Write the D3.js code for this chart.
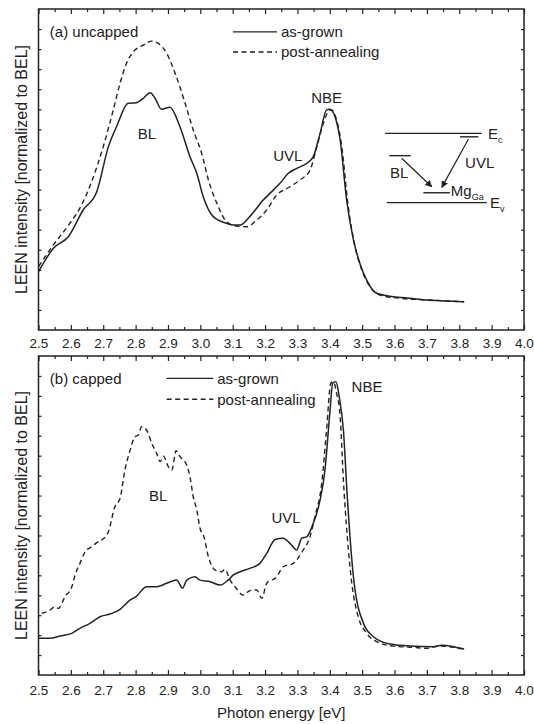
<!DOCTYPE html>
<html lang="en">
<head>
<meta charset="utf-8">
<title>LEEN spectra</title>
<script src="https://d3js.org/d3.v7.min.js"></script>
<style>
    body { margin: 0; background: #fff; }
    svg { font-family: "Liberation Sans", Arial, sans-serif; fill: #222; }
    .tick text { font-size: 13.5px; fill: #222; }
    .lbl { font-size: 15px; fill: #222; }
    .ylbl { font-size: 16px; fill: #222; }
</style>
</head>
<body>
<div id="chart"></div>
<script>
// [photon energy eV, intensity in axis units]
const topAsGrown = [[2.50,2.91],[2.546,4.07],[2.592,4.65],[2.638,5.98],[2.68,6.89],[2.716,9.14],[2.742,10.17],[2.777,11.3],[2.803,11.33],[2.824,11.55],[2.845,11.83],[2.86,11.55],[2.88,11.0],[2.906,11.1],[2.937,10.13],[2.968,8.64],[2.989,7.81],[3.009,6.64],[3.04,5.65],[3.081,5.32],[3.102,5.23],[3.123,5.23],[3.148,5.57],[3.174,6.07],[3.19,6.4],[3.215,6.81],[3.246,7.31],[3.272,7.81],[3.298,8.06],[3.329,8.31],[3.349,8.64],[3.37,9.8],[3.39,10.97],[3.40,11.0],[3.416,10.63],[3.432,9.47],[3.452,6.48],[3.473,4.49],[3.493,3.32],[3.514,2.49],[3.545,1.83],[3.596,1.66],[3.648,1.58],[3.699,1.50],[3.761,1.45],[3.815,1.41]];
const topAnnealed = [[2.50,3.16],[2.546,4.24],[2.597,5.32],[2.633,6.23],[2.664,7.39],[2.70,9.14],[2.731,10.97],[2.752,12.3],[2.772,13.3],[2.793,13.87],[2.824,14.2],[2.85,14.4],[2.87,14.29],[2.896,13.79],[2.922,12.8],[2.953,11.3],[2.978,9.97],[3.004,8.81],[3.025,7.48],[3.051,6.32],[3.081,5.4],[3.112,5.18],[3.143,5.15],[3.174,5.48],[3.205,5.98],[3.236,6.73],[3.277,7.14],[3.308,7.48],[3.339,7.97],[3.36,9.14],[3.38,10.3],[3.395,10.88],[3.406,10.97],[3.421,10.47],[3.437,9.14],[3.457,6.15],[3.478,4.15],[3.499,2.99],[3.524,2.16],[3.555,1.74],[3.617,1.58],[3.699,1.5],[3.815,1.41]];
const bottomAsGrown = [[2.50,1.84],[2.536,1.84],[2.566,1.96],[2.603,2.09],[2.628,2.34],[2.659,2.59],[2.69,2.92],[2.721,3.06],[2.752,3.29],[2.777,3.68],[2.803,3.96],[2.834,4.43],[2.865,4.43],[2.896,4.6],[2.927,4.76],[2.945,4.35],[2.958,4.76],[2.983,4.93],[2.999,4.76],[3.03,4.68],[3.061,4.51],[3.086,4.76],[3.102,5.02],[3.123,5.18],[3.153,5.35],[3.184,5.6],[3.205,6.1],[3.231,6.8],[3.256,6.86],[3.277,6.6],[3.298,6.27],[3.313,6.86],[3.329,6.94],[3.349,7.61],[3.37,8.78],[3.385,10.28],[3.40,13.12],[3.409,14.63],[3.419,14.71],[3.429,13.96],[3.442,12.29],[3.454,8.94],[3.473,4.93],[3.504,2.59],[3.535,1.92],[3.586,1.55],[3.648,1.45],[3.72,1.42],[3.746,1.49],[3.782,1.42],[3.815,1.3]];
const bottomAnnealed = [[2.51,3.09],[2.536,3.26],[2.551,3.42],[2.561,3.34],[2.582,3.93],[2.603,4.43],[2.613,5.02],[2.628,5.6],[2.644,6.18],[2.664,6.43],[2.685,6.69],[2.695,6.77],[2.716,7.19],[2.736,8.44],[2.752,8.86],[2.767,10.28],[2.783,11.28],[2.798,11.95],[2.808,12.04],[2.819,12.45],[2.834,12.29],[2.85,11.62],[2.865,11.12],[2.876,10.7],[2.886,10.98],[2.901,10.45],[2.912,10.28],[2.925,11.25],[2.937,10.95],[2.958,10.53],[2.968,9.94],[2.978,8.94],[2.989,8.27],[2.999,7.36],[3.011,6.94],[3.025,5.93],[3.045,5.27],[3.066,5.18],[3.076,5.3],[3.092,4.76],[3.107,4.43],[3.133,4.01],[3.148,4.18],[3.159,4.26],[3.174,4.26],[3.19,3.85],[3.205,4.6],[3.236,4.93],[3.256,5.43],[3.287,5.6],[3.318,6.27],[3.339,6.94],[3.354,7.94],[3.375,9.61],[3.39,12.29],[3.403,14.63],[3.411,14.71],[3.421,14.13],[3.432,12.95],[3.442,9.78],[3.454,6.94],[3.468,4.6],[3.488,2.92],[3.514,2.09],[3.545,1.67],[3.596,1.45],[3.658,1.39],[3.699,1.34],[3.74,1.45],[3.782,1.39],[3.815,1.3]];

const xMajor = d3.range(25, 41).map(d => d / 10);
const xMinor = d3.range(25, 40).map(d => d / 10 + 0.05);
const yTicks = d3.range(1, 16);

// energy level scheme (top panel, data units)
const levels = [[3.571, 3.869, 9.8], [3.576, 3.885, 6.35], [3.584, 3.65, 8.69], [3.689, 3.771, 6.84], [3.802, 3.859, 9.63]];
const arrows = [[3.622, 8.56, 3.715, 7.14], [3.828, 9.51, 3.746, 7.11]];

const W = 534, H = 724;
const left = 38.5, right = 524;

const panels = [
    { top: 9, bottom: 330, pad: 8, tag: "(a) uncapped", solid: topAsGrown, dash: topAnnealed,
      legX: [3.101, 3.237], legY: [14.86, 13.86], tagPos: [2.535, 14.85],
      notes: [["BL", 2.835, 9.8], ["UVL", 3.27, 8.7], ["NBE", 3.39, 11.6]] },
    { top: 356, bottom: 675, pad: 10, tag: "(b) capped", solid: bottomAsGrown, dash: bottomAnnealed,
      legX: [2.896, 3.04], legY: [14.88, 13.83], tagPos: [2.535, 14.85],
      notes: [["BL", 2.87, 9.0], ["UVL", 3.265, 7.9], ["NBE", 3.515, 14.45]] }
];

const svg = d3.select("#chart").append("svg")
    .attr("width", W)
    .attr("height", H);

svg.append("defs").append("marker")
    .attr("id", "arr")
    .attr("viewBox", "0 0 10 10")
    .attr("refX", 9).attr("refY", 5)
    .attr("markerWidth", 7).attr("markerHeight", 7)
    .attr("markerUnits", "userSpaceOnUse")
    .attr("orient", "auto")
    .append("path")
    .attr("d", "M0,0L10,5L0,10z")
    .attr("fill", "#222");

const x = d3.scaleLinear().domain([2.5, 4.0]).range([left, right]);

panels.forEach(p => {
    const y = d3.scaleLinear().domain([0, 16]).range([p.bottom, p.top]);
    const g = svg.append("g");

    const line = d3.line().x(d => x(d[0])).y(d => y(d[1])).curve(d3.curveMonotoneX);

    g.append("path").datum(p.solid)
        .attr("d", line).attr("fill", "none")
        .attr("stroke", "#222").attr("stroke-width", 1.5);
    g.append("path").datum(p.dash)
        .attr("d", line).attr("fill", "none")
        .attr("stroke", "#222").attr("stroke-width", 1.4)
        .attr("stroke-dasharray", "5,3.5");

    // axes, ticks inward on all four sides
    g.append("g").attr("transform", `translate(0,${p.bottom})`)
        .call(d3.axisBottom(x).tickValues(xMajor).tickSizeInner(-5).tickSizeOuter(0)
            .tickPadding(p.pad).tickFormat(d3.format(".1f")));
    g.append("g").attr("transform", `translate(0,${p.bottom})`)
        .call(d3.axisBottom(x).tickValues(xMinor).tickSizeInner(-3).tickSizeOuter(0).tickFormat(""));
    g.append("g").attr("transform", `translate(0,${p.top})`)
        .call(d3.axisTop(x).tickValues(xMajor).tickSizeInner(-5).tickSizeOuter(0).tickFormat(""));
    g.append("g").attr("transform", `translate(0,${p.top})`)
        .call(d3.axisTop(x).tickValues(xMinor).tickSizeInner(-3).tickSizeOuter(0).tickFormat(""));
    g.append("g").attr("transform", `translate(${left},0)`)
        .call(d3.axisLeft(y).tickValues(yTicks).tickSizeInner(-3).tickSizeOuter(0).tickFormat(""));
    g.append("g").attr("transform", `translate(${right},0)`)
        .call(d3.axisRight(y).tickValues(yTicks).tickSizeInner(-3).tickSizeOuter(0).tickFormat(""));
    g.selectAll(".domain").remove();
    g.selectAll(".tick line").attr("stroke", "#222").attr("stroke-width", 1.2);

    g.append("rect")
        .attr("x", left).attr("y", p.top)
        .attr("width", right - left).attr("height", p.bottom - p.top)
        .attr("fill", "none").attr("stroke", "#222").attr("stroke-width", 1.5);

    // y label
    svg.append("text").attr("class", "ylbl")
        .attr("transform", `translate(21,${(p.top + p.bottom) / 2}) rotate(-90)`)
        .attr("text-anchor", "middle").attr("dy", "0.35em")
        .text("LEEN intensity [normalized to BEL]");

    g.append("text").attr("class", "lbl")
        .attr("x", x(p.tagPos[0])).attr("y", y(p.tagPos[1])).attr("dy", "0.35em")
        .text(p.tag);

    // legend
    const names = ["as-grown", "post-annealing"];
    names.forEach((n, i) => {
        g.append("line")
            .attr("x1", x(p.legX[0])).attr("x2", x(p.legX[1]))
            .attr("y1", y(p.legY[i])).attr("y2", y(p.legY[i]))
            .attr("stroke", "#222").attr("stroke-width", 1.4)
            .attr("stroke-dasharray", i ? "5,3.5" : null);
        g.append("text").attr("class", "lbl")
            .attr("x", x(p.legX[1]) + 4).attr("y", y(p.legY[i])).attr("dy", "0.35em")
            .text(n);
    });

    p.notes.forEach(n => {
        g.append("text").attr("class", "lbl")
            .attr("x", x(n[1])).attr("y", y(n[2])).attr("dy", "0.35em")
            .attr("text-anchor", "middle")
            .text(n[0]);
    });

    if (p.top === 9) {
        const s = g.append("g");
        s.selectAll("line.lev").data(levels).join("line")
            .attr("x1", d => x(d[0])).attr("x2", d => x(d[1]))
            .attr("y1", d => y(d[2])).attr("y2", d => y(d[2]))
            .attr("stroke", "#222").attr("stroke-width", 1.4);
        s.selectAll("line.arr").data(arrows).join("line")
            .attr("x1", d => x(d[0])).attr("y1", d => y(d[1]))
            .attr("x2", d => x(d[2])).attr("y2", d => y(d[3]))
            .attr("stroke", "#222").attr("stroke-width", 1.2)
            .attr("marker-end", "url(#arr)");
        const t1 = s.append("text").attr("class", "lbl")
            .attr("x", x(3.889)).attr("y", y(9.8)).attr("dy", "0.35em");
        t1.append("tspan").text("E");
        t1.append("tspan").attr("dy", 4).style("font-size", "9px").text("c");
        const t2 = s.append("text").attr("class", "lbl")
            .attr("x", x(3.895)).attr("y", y(6.35)).attr("dy", "0.35em");
        t2.append("tspan").text("E");
        t2.append("tspan").attr("dy", 4).style("font-size", "9px").text("v");
        const t3 = s.append("text").attr("class", "lbl")
            .attr("x", x(3.774)).attr("y", y(6.84)).attr("dy", "0.2em");
        t3.append("tspan").text("Mg");
        t3.append("tspan").attr("dy", 4).style("font-size", "9px").text("Ga");
        s.append("text").attr("class", "lbl")
            .attr("x", x(3.614)).attr("y", y(7.85)).attr("dy", "0.35em")
            .attr("text-anchor", "middle").text("BL");
        s.append("text").attr("class", "lbl")
            .attr("x", x(3.818)).attr("y", y(8.35)).attr("dy", "0.35em")
            .text("UVL");
    }
});

svg.append("text").attr("class", "lbl")
    .attr("x", (left + right) / 2).attr("y", 713).attr("dy", "0.35em")
    .attr("text-anchor", "middle")
    .text("Photon energy [eV]");
</script>
</body>
</html>
